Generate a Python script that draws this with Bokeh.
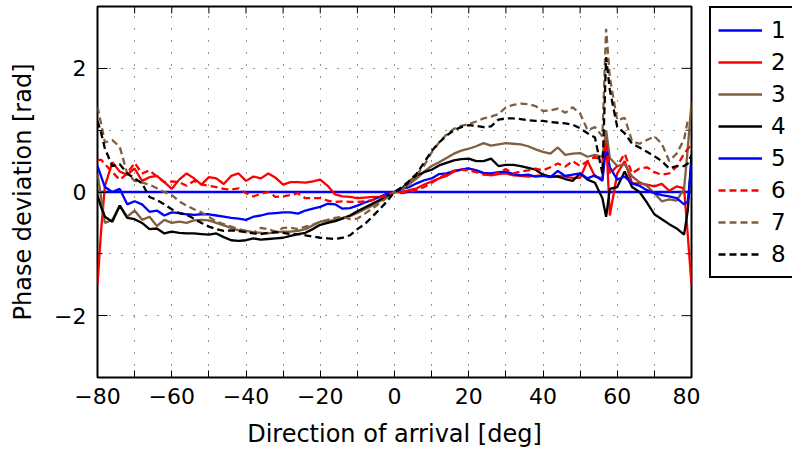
from bokeh.plotting import figure
from bokeh.models import FixedTicker, Legend, LegendItem, Range1d
from bokeh.layouts import row
from bokeh.embed import file_html
from bokeh.resources import INLINE

# ---- data -------------------------------------------------------------
doa = [-80, -79, -78, -76, -74, -72, -70, -68, -66, -64,
       -62, -60, -58, -56, -54, -52, -50, -48, -46, -44,
       -42, -40, -38, -36, -34, -32, -30, -28, -26, -24,
       -22, -20, -18, -16, -14, -12, -10, -8, -6, -4,
       -2, 0, 2, 4, 6, 8, 10, 12, 14, 16,
       18, 20, 22, 24, 26, 28, 30, 32, 34, 36,
       38, 40, 42, 44, 46, 48, 50, 52, 54, 56,
       57, 58, 60, 62, 64, 66, 68, 70, 72, 74,
       76, 78, 79, 80]

s1 = [0.0, 0.0, 0.0, 0.0, 0.0, 0.0, 0.0, 0.0, 0.0, 0.0,
      0.0, 0.0, 0.0, 0.0, 0.0, 0.0, 0.0, 0.0, 0.0, 0.0,
      0.0, 0.0, 0.0, 0.0, 0.0, 0.0, 0.0, 0.0, 0.0, 0.0,
      0.0, 0.0, 0.0, 0.0, 0.0, 0.0, 0.0, 0.0, 0.0, 0.0,
      0.0, 0.0, 0.0, 0.0, 0.0, 0.0, 0.0, 0.0, 0.0, 0.0,
      0.0, 0.0, 0.0, 0.0, 0.0, 0.0, 0.0, 0.0, 0.0, 0.0,
      0.0, 0.0, 0.0, 0.0, 0.0, 0.0, 0.0, 0.0, 0.0, 0.0,
      0.0, 0.0, 0.0, 0.0, 0.0, 0.0, 0.0, 0.0, 0.0, 0.0,
      0.0, 0.0, 0.0, 0.0]

s2 = [-1.5, -0.6, 0.1, 0.48, 0.33, 0.28, 0.38, 0.18, 0.24, 0.26,
      0.16, 0.05, 0.2, 0.3, 0.22, 0.12, 0.24, 0.22, 0.13, 0.26,
      0.3, 0.18, 0.25, 0.22, 0.3, 0.23, 0.12, 0.16, 0.16, 0.15,
      0.17, 0.2, 0.1, -0.04, -0.07, -0.08, -0.1, -0.09, -0.08, -0.08,
      -0.03, 0.0, 0.0, 0.03, 0.06, 0.12, 0.17, 0.22, 0.26, 0.33,
      0.36, 0.38, 0.35, 0.3, 0.27, 0.29, 0.3, 0.27, 0.26, 0.25,
      0.26, 0.27, 0.25, 0.26, 0.25, 0.23, 0.23, 0.5, 0.25, 0.22,
      0.88, -0.38, 0.3, 0.5, 0.14, 0.14, 0.12, 0.09, 0.13, 0.02,
      0.09, 0.06, -0.7, -1.5]

s3 = [0.3, -0.1, -0.5, -0.45, -0.22, -0.4, -0.3, -0.45, -0.4, -0.55,
      -0.45, -0.5, -0.48, -0.5, -0.46, -0.45, -0.46, -0.5, -0.54, -0.58,
      -0.62, -0.63, -0.65, -0.66, -0.67, -0.65, -0.64, -0.64, -0.63, -0.6,
      -0.54, -0.48, -0.47, -0.45, -0.42, -0.39, -0.34, -0.28, -0.22, -0.15,
      -0.08, 0.0, 0.05, 0.13, 0.22, 0.33, 0.42, 0.48, 0.55, 0.62,
      0.67, 0.7, 0.74, 0.79, 0.75, 0.77, 0.79, 0.78, 0.77, 0.74,
      0.69, 0.65, 0.62, 0.72, 0.6, 0.62, 0.63, 0.57, 0.6, 0.57,
      1.0, 0.55, 0.42, 0.45, 0.25, 0.16, 0.1, -0.02, -0.15, -0.12,
      -0.14, 0.05, 0.7, 1.45]

s4 = [-0.05, -0.25, -0.4, -0.48, -0.22, -0.42, -0.44, -0.5, -0.6, -0.59,
      -0.67, -0.64, -0.66, -0.67, -0.67, -0.68, -0.69, -0.67, -0.73, -0.78,
      -0.79, -0.78, -0.75, -0.77, -0.76, -0.75, -0.74, -0.71, -0.68, -0.66,
      -0.6, -0.53, -0.5, -0.47, -0.43, -0.38, -0.31, -0.25, -0.19, -0.13,
      -0.07, 0.0, 0.06, 0.17, 0.27, 0.32, 0.36, 0.43, 0.47, 0.51,
      0.53, 0.54, 0.5, 0.5, 0.54, 0.42, 0.44, 0.44, 0.42, 0.39,
      0.36, 0.28, 0.25, 0.25, 0.21, 0.18, 0.3, 0.2, 0.15, -0.1,
      -0.4, 0.05, 0.08, 0.33, 0.08, 0.0, -0.17, -0.36, -0.44, -0.52,
      -0.59, -0.69, -0.3, 0.6]

s5 = [0.42, 0.25, 0.08, 0.0, 0.05, -0.2, -0.15, -0.2, -0.32, -0.3,
      -0.38, -0.33, -0.34, -0.36, -0.37, -0.36, -0.36, -0.38, -0.4, -0.42,
      -0.43, -0.45, -0.4, -0.38, -0.35, -0.34, -0.33, -0.33, -0.35, -0.3,
      -0.27, -0.24, -0.19, -0.2, -0.27, -0.26, -0.22, -0.17, -0.13, -0.08,
      -0.03, 0.0, 0.05, 0.08, 0.14, 0.19, 0.22, 0.29, 0.3, 0.34,
      0.36, 0.38, 0.35, 0.31, 0.3, 0.32, 0.33, 0.29, 0.27, 0.28,
      0.25, 0.26, 0.24, 0.34, 0.26, 0.28, 0.3, 0.22, 0.27, 0.18,
      0.74, 0.4, 0.2, 0.25, 0.14, 0.1, 0.03, -0.02, -0.05, -0.07,
      -0.1, -0.2, -0.15, 0.45]

s6 = [0.52, 0.52, 0.45, 0.32, 0.2, 0.3, 0.47, 0.3, 0.35, 0.25,
      0.16, 0.17, 0.16, 0.1, 0.18, 0.12, 0.1, 0.08, 0.05, 0.04,
      0.06, -0.02, -0.07, -0.03, 0.0, -0.08, -0.07, -0.05, -0.02, -0.1,
      -0.1, -0.1, -0.14, -0.16, -0.15, -0.16, -0.16, -0.15, -0.13, -0.09,
      -0.05, 0.0, -0.02, 0.0, 0.03, 0.08, 0.15, 0.22, 0.29, 0.34,
      0.36, 0.35, 0.32, 0.28, 0.27, 0.31, 0.37, 0.3, 0.33, 0.35,
      0.38, 0.35, 0.4, 0.46, 0.41, 0.5, 0.42, 0.5, 0.57, 0.5,
      0.8, 0.3, 0.42, 0.62, 0.3, 0.38, 0.4, 0.32, 0.28, 0.3,
      0.41, 0.62, 0.7, 0.75]

s7 = [1.38, 1.1, 0.8, 0.84, 0.73, 0.3, 0.18, 0.15, 0.12, 0.06,
      0.0, -0.05, -0.15, -0.22, -0.28, -0.33, -0.4, -0.48, -0.52, -0.56,
      -0.6, -0.63, -0.66, -0.58, -0.6, -0.64, -0.58, -0.58, -0.6, -0.56,
      -0.53, -0.48, -0.45, -0.42, -0.4, -0.44, -0.43, -0.35, -0.27, -0.18,
      -0.09, 0.0, 0.03, 0.15, 0.28, 0.43, 0.64, 0.8, 0.93, 1.02,
      1.07, 1.1, 1.14, 1.19, 1.22, 1.26, 1.37, 1.41, 1.43, 1.42,
      1.39, 1.31, 1.32, 1.35, 1.28, 1.37, 1.27, 1.0, 1.05, 0.9,
      2.64, 1.85, 1.16, 1.2, 0.82, 0.78, 0.84, 0.9, 0.78, 0.5,
      0.62, 0.85, 1.16, 1.2]

s8 = [1.15, 0.95, 0.7, 0.42, 0.45, 0.3, 0.22, 0.14, -0.08, -0.13,
      -0.2, -0.28, -0.34, -0.37, -0.43, -0.5, -0.56, -0.6, -0.63, -0.62,
      -0.63, -0.65, -0.67, -0.68, -0.66, -0.65, -0.66, -0.68, -0.68, -0.7,
      -0.72, -0.74, -0.75, -0.76, -0.74, -0.7, -0.6, -0.52, -0.4, -0.28,
      -0.15, 0.0, 0.08, 0.18, 0.3, 0.48, 0.66, 0.8, 0.91, 1.0,
      1.05, 1.08, 1.07, 1.05, 1.06, 1.17, 1.19, 1.19, 1.18, 1.16,
      1.15, 1.15, 1.13, 1.12, 1.11, 1.09, 1.03, 0.95, 0.88, 0.3,
      2.18, 1.65, 1.05, 0.95, 0.78, 0.72, 0.65, 0.58, 0.5, 0.38,
      0.42, 0.42, 0.46, 0.6]

series = [s1, s2, s3, s4, s5, s6, s7, s8]
series_labels = ["1", "2", "3", "4", "5", "6", "7", "8"]

x_ticks = [-80, -60, -40, -20, 0, 20, 40, 60, 80]
x_tick_labels = ["\u221280", "\u221260", "\u221240", "\u221220", "0", "20", "40", "60", "80"]
x_minor_ticks = [-70, -50, -30, -10, 10, 30, 50, 70]
x_grid = [-70, -60, -50, -40, -30, -20, -10, 0, 10, 20, 30, 40, 50, 60, 70]
y_ticks = [-2, 0, 2]
y_tick_labels = ["\u22122", "0", "2"]
y_minor_ticks = [-1, 1]
y_grid = [-2, -1, 0, 1, 2]

# ---- styles -----------------------------------------------------------
colors = ["#0000ff", "#ff0000", "#7f5f3f", "#000000",
          "#0000ff", "#ff0000", "#7f5f3f", "#000000"]
dashes = ["solid", "solid", "solid", "solid", "solid", "7 4", "7 4", "7 4"]
LW = 2.3
FONT = "DejaVu Sans"

X0, X1, Y0, Y1 = -80, 80, -3, 3
FRAME_W, FRAME_H = 594, 372
p = figure(width=700, height=450, output_backend="svg", toolbar_location=None,
           x_range=Range1d(X0, X1), y_range=Range1d(Y0, Y1),
           min_border_left=97, min_border_right=9,
           min_border_top=6, min_border_bottom=72)
p.background_fill_color = "white"
p.border_fill_color = "white"
p.outline_line_color = "black"
p.outline_line_width = 2
p.outline_line_alpha = 1

px_x = FRAME_W / (X1 - X0)   # px per degree (tick-mark lengths only)
px_y = FRAME_H / (Y1 - Y0)   # px per rad

# bottom / left axes
p.xaxis.ticker = FixedTicker(ticks=x_ticks, minor_ticks=x_minor_ticks)
p.xaxis.major_label_overrides = dict(zip(x_ticks, x_tick_labels))
p.yaxis.ticker = FixedTicker(ticks=y_ticks, minor_ticks=y_minor_ticks)
p.yaxis.major_label_overrides = dict(zip(y_ticks, y_tick_labels))
p.xaxis.axis_label = "Direction of arrival [deg]"
p.yaxis.axis_label = "Phase deviation [rad]"

for ax in (p.xaxis[0], p.yaxis[0]):
    ax.axis_line_color = None
    ax.major_tick_out = 0
    ax.minor_tick_out = 0
    ax.major_tick_line_color = "black"
    ax.minor_tick_line_color = "black"
    ax.major_label_text_font = FONT
    ax.major_label_text_font_size = "22px"
    ax.major_label_text_color = "black"
    ax.axis_label_text_font = FONT
    ax.axis_label_text_font_size = "24px"
    ax.axis_label_text_font_style = "normal"
    ax.axis_label_text_color = "black"

p.xaxis.major_tick_in = 7
p.xaxis.minor_tick_in = 7
p.xaxis.major_label_standoff = 10
p.xaxis.axis_label_standoff = 13
p.yaxis.major_tick_in = 10
p.yaxis.minor_tick_in = 5
p.yaxis.major_label_standoff = 11
p.yaxis.axis_label_standoff = 14

# mirrored tick marks on top and right edges
top_x = x_ticks + x_minor_ticks
p.segment(x0=top_x, x1=top_x,
          y0=[Y1] * len(top_x), y1=[Y1 - 7 / px_y] * len(top_x),
          line_color="black", line_width=1)
p.segment(x0=[X1] * len(y_ticks), x1=[X1 - 10 / px_x] * len(y_ticks),
          y0=y_ticks, y1=y_ticks, line_color="black", line_width=1)
p.segment(x0=[X1] * len(y_minor_ticks), x1=[X1 - 5 / px_x] * len(y_minor_ticks),
          y0=y_minor_ticks, y1=y_minor_ticks, line_color="black", line_width=1)

# dotted grid
p.xgrid.ticker = FixedTicker(ticks=x_grid)
p.ygrid.ticker = FixedTicker(ticks=y_grid)
for g in (p.xgrid[0], p.ygrid[0]):
    g.grid_line_color = "black"
    g.grid_line_alpha = 0.85
    g.grid_line_width = 1
    g.grid_line_dash = "1 11"

# curves
for s, c, d in zip(series, colors, dashes):
    p.line(doa, s, line_color=c, line_width=LW, line_dash=d)

# legend panel (separate small canvas to the right of the frame)
pl = figure(width=92, height=450, output_backend="svg", toolbar_location=None,
            x_axis_type=None, y_axis_type=None,
            x_range=Range1d(0, 1), y_range=Range1d(0, 1),
            min_border_left=0, min_border_right=0,
            min_border_top=0, min_border_bottom=0)
pl.outline_line_color = None
pl.background_fill_color = "white"
pl.border_fill_color = "white"
# single-point proxy lines: they draw nothing, only feed the legend swatches
legend_rs = [pl.line([0.5], [0.5], line_color=c, line_width=LW, line_dash=d)
             for c, d in zip(colors, dashes)]
legend = Legend(items=[LegendItem(label=lab, renderers=[r])
                       for lab, r in zip(series_labels, legend_rs)],
                location=(9, 99), orientation="vertical",
                glyph_width=44, glyph_height=30, label_height=30,
                label_standoff=9, spacing=2, padding=7, margin=0,
                border_line_color="black", border_line_width=2,
                border_line_alpha=1,
                background_fill_color="white", background_fill_alpha=1,
                label_text_font=FONT, label_text_font_size="23px",
                label_text_color="black")
pl.add_layout(legend, "center")

open("out.html", "w").write(file_html(row(p, pl), INLINE))
